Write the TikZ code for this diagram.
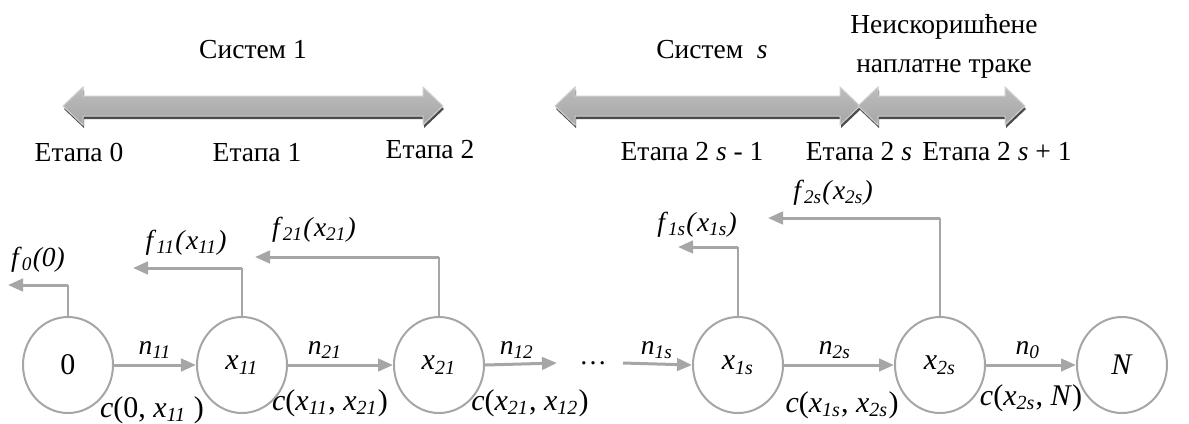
\documentclass[tikz,border=0pt]{standalone}
\usepackage{fontspec}
\setmainfont{Liberation Serif}
\usetikzlibrary{shapes.geometric,arrows.meta}
\definecolor{linegray}{RGB}{166,166,166}
\tikzset{
band/.style={top color=gray!52,bottom color=gray!70,draw=gray!38,line width=0.4pt},
bandshadow/.style={fill=black!70},
state/.style={ellipse,draw=linegray,line width=0.8pt,minimum width=36pt,minimum height=38.4pt,
inner sep=0pt,font=\fontsize{12}{14}\selectfont},
flow/.style={-{Triangle[length=6pt,width=5pt]},linegray,line width=1.2pt},
back/.style={-{Triangle[length=6pt,width=5pt]},linegray,line width=1.2pt},
riser/.style={linegray,line width=0.45pt},
stagelbl/.style={font=\fontsize{11}{13}\selectfont,inner sep=0pt},
arclbl/.style={font=\fontsize{11}{13}\selectfont,inner sep=0pt},
costlbl/.style={font=\fontsize{12}{14}\selectfont,inner sep=0pt},
vallbl/.style={font=\fontsize{11}{13}\selectfont,inner sep=0pt}
}
\newcommand{\isub}[2]{\textit{#1}\textsubscript{\textit{#2}}}
% #1 left tip, #2 right tip, #3 middle height
\newcommand{\bandarrow}[3]{%
\fill[bandshadow] (#1+1,#3+3) -- (#1+21,#3-16) -- (#1+21,#3-7) -- (#2-19,#3-7) -- (#2-19,#3-16)
 -- (#2+1,#3+3) -- (#2-19,#3+22) -- (#2-19,#3+13) -- (#1+21,#3+13) -- (#1+21,#3+22) -- cycle;
\shade[band] (#1,#3) -- (#1+20,#3-19) -- (#1+20,#3-10) -- (#2-20,#3-10) -- (#2-20,#3-19)
 -- (#2,#3) -- (#2-20,#3+19) -- (#2-20,#3+10) -- (#1+20,#3+10) -- (#1+20,#3+19) -- cycle;}

\begin{document}
\begin{tikzpicture}[x=0.4pt,y=-0.4pt]
\useasboundingbox (0,0) rectangle (1189,423);
% systems and stages
\bandarrow{63}{443}{106}
\bandarrow{555}{860}{106}
\bandarrow{858}{1025}{106}
\node[stagelbl] (t1) at (253,50) {Систем 1};
\node[stagelbl] (ts) at (712,50) {Систем\ \ \textit{s}};
\node[stagelbl,align=center] (tf) at (944,46) {Неискоришћене\\[2.5pt]наплатне траке};
\node[stagelbl] (e0) at (79,152) {Етапа 0};
\node[stagelbl] (e1) at (257,153) {Етапа 1};
\node[stagelbl] (e2) at (430,150) {Етапа 2};
\node[stagelbl] (e3) at (692,152) {Етапа 2 \textit{s} - 1};
\node[stagelbl] (e4) at (859,152) {Етапа 2 \textit{s}};
\node[stagelbl] (e5) at (997,152) {Етапа 2 \textit{s} + 1};
% states
\node[state] (v0) at (68,365) {0};
\node[state] (v11) at (242,365) {\isub{x}{11}};
\node[state] (v21) at (439,365) {\isub{x}{21}};
\node[state] (v1s) at (738,365) {\isub{x}{1s}};
\node[state] (v2s) at (940,365) {\isub{x}{2s}};
\node[state] (vN) at (1122,365) {\textit{N}};
\node[font=\fontsize{11}{13}\selectfont,inner sep=0pt] (dots) at (593,363) {\ldots};
\coordinate (gapl) at (557,363);
\coordinate (gapr) at (623,363);
\draw[flow] (v0.east) -- (v11.west);
\draw[flow] (v11.east) -- (v21.west);
\draw[flow] (v21.east) -- (gapl);
\draw[flow] (gapr) -- (v1s.west);
\draw[flow] (v1s.east) -- (v2s.west);
\draw[flow] (v2s.east) -- (vN.west);
\node[arclbl] (a1) at (155,350) {\isub{n}{11}};
\node[arclbl] (a2) at (325,350) {\isub{n}{21}};
\node[arclbl] (a3) at (517,350) {\isub{n}{12}};
\node[arclbl] (a4) at (657,350) {\isub{n}{1s}};
\node[arclbl] (a5) at (835,350) {\isub{n}{2s}};
\node[arclbl] (a6) at (1028,350) {\isub{n}{0}};
\node[costlbl] (c1) at (152,410) {\textit{c}(0, \isub{x}{11} )};
\node[costlbl] (c2) at (330,403) {\textit{c}(\isub{x}{11}, \isub{x}{21})};
\node[costlbl] (c3) at (530,403) {\textit{c}(\isub{x}{21}, \isub{x}{12})};
\node[costlbl] (c4) at (842,405) {\textit{c}(\isub{x}{1s}, \isub{x}{2s})};
\node[costlbl] (c5) at (1031,398) {\textit{c}(\isub{x}{2s}, \textit{N})};
% returned values
\coordinate (r0) at (8,285);
\coordinate (r11) at (133,268);
\coordinate (r21) at (255,257);
\coordinate (r1s) at (678,247);
\coordinate (r2s) at (768,218);
\foreach \v in {0,11,21,1s,2s}{
\draw[riser] (v\v.north) -- (v\v.north |- r\v);
\draw[back] (v\v.north |- r\v) -- (r\v);
}
\node[vallbl] (f0) at (38,260) {\isub{f}{0}\textit{(0)}};
\node[vallbl] (f11) at (186,243) {\isub{f}{11}\textit{(}\isub{x}{11}\textit{)}};
\node[vallbl] (f21) at (314,230) {\isub{f}{21}\textit{(}\isub{x}{21}\textit{)}};
\node[vallbl] (f1s) at (697,225) {\isub{f}{1s}\textit{(}\isub{x}{1s}\textit{)}};
\node[vallbl] (f2s) at (833,193) {\isub{f}{2s}\textit{(}\isub{x}{2s}\textit{)}};
\end{tikzpicture}
\end{document}
